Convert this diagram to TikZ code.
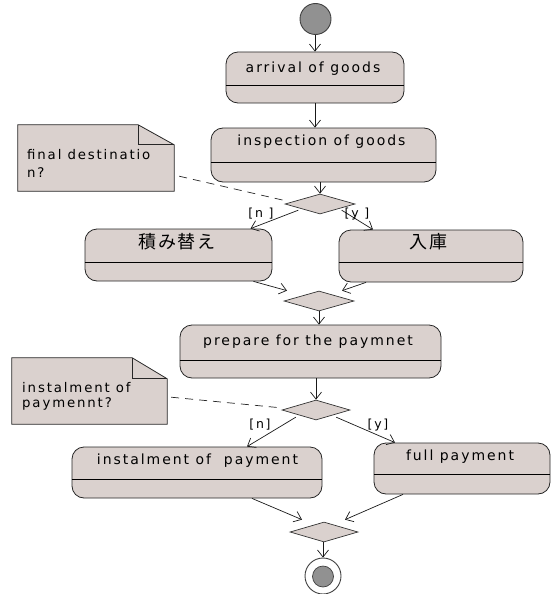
\documentclass[tikz,border=0pt]{standalone}
\usepackage{fontspec}
\newfontfamily\umlfont{DejaVu Sans}[LetterSpace=14]
\newfontfamily\umljp{Noto Sans CJK JP}[LetterSpace=8]
\usetikzlibrary{shapes.geometric,arrows.meta}
\definecolor{actfill}{RGB}{218,209,206}
\definecolor{dotfill}{RGB}{145,145,145}
\begin{document}
\begin{tikzpicture}[x=1pt,y=-1pt,
  actbox/.style 2 args={draw=black!85, fill=actfill, line width=0.8pt,
    rounded corners=12pt, minimum width=#1, minimum height=#2, inner sep=0pt},
  divider/.style={draw=black, line width=0.7pt},
  acttext/.style={font=\umlfont\fontsize{14pt}{16pt}\selectfont, inner sep=0pt, anchor=base},
  jptext/.style={font=\umljp\fontsize{18pt}{20pt}\selectfont, inner sep=0pt, anchor=base},
  notetext/.style={font=\umlfont\fontsize{13.3pt}{16pt}\selectfont, inner sep=0pt, anchor=base west},
  guard/.style={font=\umlfont\fontsize{12.5pt}{14pt}\selectfont, inner sep=0pt},
  decision/.style={diamond, draw=black!80, fill=actfill, line width=0.7pt,
    minimum width=70pt, minimum height=20pt, inner sep=0pt, aspect=3.5},
  flow/.style={draw=black!90, line width=0.7pt, -{Straight Barb[length=7pt,width=11pt]}},
  notebox/.style={draw=none, minimum width=#1, minimum height=66pt, inner sep=0pt},
  notelink/.style={draw=black!85, line width=0.7pt, dash pattern=on 8pt off 6pt},
  state/.style={circle, draw=black!75, fill=dotfill, line width=0.9pt,
    minimum size=#1, inner sep=0pt},
]
\useasboundingbox (0,0) rectangle (552,594);

% start and end states
\node[state=31pt] (S) at (315.5,19) {};
\node[state=36pt, fill=white] (E) at (323,576) {};
\node[state=21pt, line width=0.7pt] (Ein) at (323,576.5) {};

% activities
\node[actbox={178pt}{51pt}] (A) at (315,77.5) {};
\draw[divider] ([yshift=-34pt]A.north west) -- ([yshift=-34pt]A.north east);
\node[acttext] (At) at (313,72) {arrival of goods};

\node[actbox={225pt}{54pt}] (B) at (323.5,155) {};
\draw[divider] ([yshift=-35pt]B.north west) -- ([yshift=-35pt]B.north east);
\node[acttext] (Bt) at (321.5,145) {inspection of goods};

\node[actbox={187pt}{52pt}] (C) at (178.5,255) {};
\draw[divider] ([yshift=-34pt]C.north west) -- ([yshift=-34pt]C.north east);
\node[jptext] (Ct) at (177,248) {積み替え};

\node[actbox={184pt}{52pt}] (D) at (431,256) {};
\draw[divider] ([yshift=-33pt]D.north west) -- ([yshift=-33pt]D.north east);
\node[jptext] (Dt) at (428.5,248) {入庫};

\node[actbox={261pt}{53pt}] (P) at (310.5,351.5) {};
\draw[divider] ([yshift=-36pt]P.north west) -- ([yshift=-36pt]P.north east);
\node[acttext] (Pt) at (308,345) {prepare for the paymnet};

\node[actbox={250pt}{51pt}] (F) at (197,472.5) {};
\draw[divider] ([yshift=-33pt]F.north west) -- ([yshift=-33pt]F.north east);
\node[acttext] (Ft) at (197.5,464) {instalment of\ \ payment};

\node[actbox={176pt}{51pt}] (G) at (462,468.5) {};
\draw[divider] ([yshift=-32pt]G.north west) -- ([yshift=-32pt]G.north east);
\node[acttext] (Gt) at (460,460) {full payment};

% decisions and merges
\node[decision] (D1) at (320,204) {};
\node[decision] (D2) at (319,301) {};
\node[decision, minimum width=68pt] (D3) at (316,410) {};
\node[decision, minimum width=68pt] (D4) at (324,532) {};

% notes with folded corner
\node[notebox=156pt] (N1) at (96,158) {};
\draw[fill=actfill, draw=black!85, line width=0.8pt]
  (N1.north west) -- ([xshift=-36pt]N1.north east) -- ([yshift=-20pt]N1.north east)
  -- (N1.south east) -- (N1.south west) -- cycle;
\draw[black!85, line width=0.8pt] ([xshift=-36pt]N1.north east) -- ([xshift=-36pt,yshift=-20pt]N1.north east)
  -- ([yshift=-20pt]N1.north east);
\node[notetext] (N1a) at (27,159) {final destinatio};
\node[notetext] (N1b) at (27,177) {n?};

\node[notebox=155pt] (N2) at (89.5,391) {};
\draw[fill=actfill, draw=black!85, line width=0.8pt]
  (N2.north west) -- ([xshift=-35pt]N2.north east) -- ([yshift=-21pt]N2.north east)
  -- (N2.south east) -- (N2.south west) -- cycle;
\draw[black!85, line width=0.8pt] ([xshift=-35pt]N2.north east) -- ([xshift=-35pt,yshift=-21pt]N2.north east)
  -- ([yshift=-21pt]N2.north east);
\node[notetext] (N2a) at (22,392) {instalment of};
\node[notetext] (N2b) at (22,407) {paymennt?};

% note links
\draw[notelink] ([xshift=5pt,yshift=15pt]N1.south east) -- ([xshift=2pt,yshift=3pt]D1.west);
\draw[notelink] ([xshift=4pt,yshift=27pt]N2.south east) -- ([xshift=1pt,yshift=2pt]D3.west);

% control flow
\draw[flow] (S.south -| A.north) -- (A.north);
\draw[flow] (A.south) -- (A.south |- B.north);
\draw[flow] (D1.north |- B.south) -- (D1.north);
\draw[flow] ([xshift=-4pt,yshift=-1pt]D1.south west) -- ([xshift=72pt]C.north);
\draw[flow] ([xshift=4pt,yshift=-1pt]D1.south east) -- ([xshift=-58pt]D.north);
\draw[flow] ([xshift=75pt]C.south) -- ([xshift=-32pt]D2.north);
\draw[flow] ([xshift=-65pt]D.south) -- ([xshift=23pt]D2.north);
\draw[flow] (D2.south) -- (D2.south |- P.north);
\draw[flow] (D3.north |- P.south) -- (D3.north);
\draw[flow] ([xshift=-3pt,yshift=-2pt]D3.south west) -- ([xshift=50pt]F.north);
\draw[flow] ([xshift=3pt,yshift=-2pt]D3.south east) -- ([xshift=-67pt]G.north);
\draw[flow] ([xshift=55pt]F.south) -- ([xshift=-22pt,yshift=2pt]D4.north);
\draw[flow] ([xshift=-59pt]G.south) -- ([xshift=21pt,yshift=2pt]D4.north);
\draw[flow] (D4.south -| E.north) -- (E.north);

% guards
\node[guard] (g1) at (261,214) {[n ]};
\node[guard] (g2) at (357,214) {[y ]};
\node[guard] (g3) at (260,425) {[n]};
\node[guard] (g4) at (378,425) {[y]};
\end{tikzpicture}
\end{document}
